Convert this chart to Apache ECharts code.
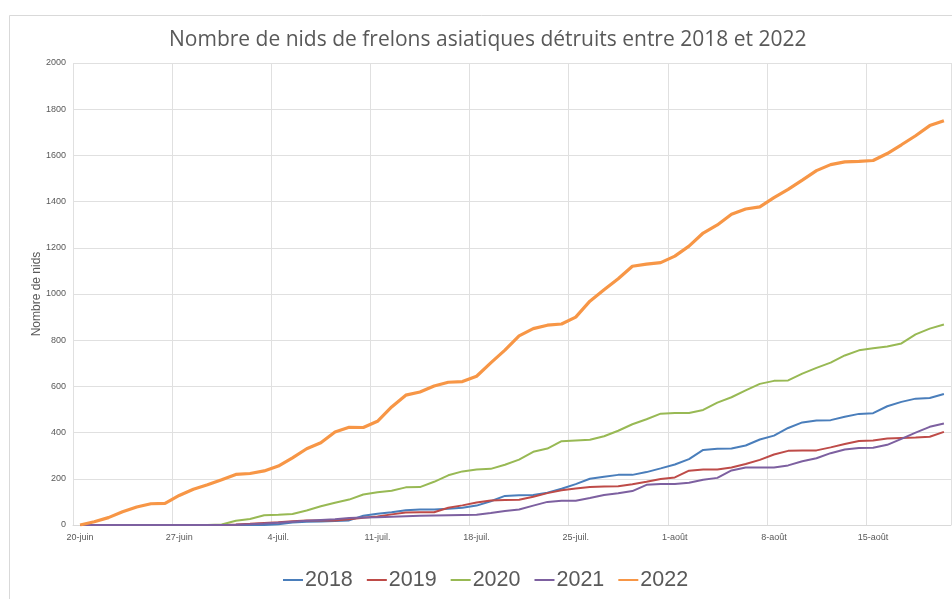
<!DOCTYPE html>
<html>
<head>
<meta charset="utf-8">
<script src="https://cdn.jsdelivr.net/npm/echarts@6/dist/echarts.min.js"></script>
<style>
html,body{margin:0;padding:0;background:#fff;}
#chart{width:952px;height:599px;}
</style>
</head>
<body>
<div id="chart"></div>
<script>
var categories = [
"20-juin","21-juin","22-juin","23-juin","24-juin","25-juin","26-juin","27-juin","28-juin","29-juin","30-juin",
"1-juil.","2-juil.","3-juil.","4-juil.","5-juil.","6-juil.","7-juil.","8-juil.","9-juil.","10-juil.",
"11-juil.","12-juil.","13-juil.","14-juil.","15-juil.","16-juil.","17-juil.","18-juil.","19-juil.","20-juil.",
"21-juil.","22-juil.","23-juil.","24-juil.","25-juil.","26-juil.","27-juil.","28-juil.","29-juil.","30-juil.","31-juil.",
"1-août","2-août","3-août","4-août","5-août","6-août","7-août","8-août","9-août","10-août",
"11-août","12-août","13-août","14-août","15-août","16-août","17-août","18-août","19-août","20-août"
];
var seriesNames = ["2018","2019","2020","2021","2022"];
var v2018 = [0,0,0,0,0,0,0,0,0,0,0,0,0,0,3,11,14,15,17,20,40,49,55,64,67,67,70,75,84,103,126,129,130,140,157,177,200,209,217,217,229,245,262,285,325,330,331,344,370,387,420,444,452,454,469,481,484,514,533,547,550,567];
var v2019 = [0,0,0,0,0,0,0,0,0,0,0,2,5,9,12,16,19,20,20,25,31,37,46,54,55,55,75,85,97,106,108,109,122,138,150,158,164,167,168,176,187,199,206,235,240,240,249,264,282,305,321,323,323,336,351,364,366,374,377,379,382,403];
var v2020 = [0,0,0,0,0,0,0,0,0,0,2,18,26,42,44,48,63,81,96,110,132,142,148,163,164,187,215,232,240,243,261,283,317,331,363,366,369,384,408,436,458,482,485,485,498,530,553,583,611,624,626,655,680,703,734,756,765,773,786,825,850,868];
var v2021 = [0,0,0,0,0,0,0,0,0,0,0,1,3,6,10,14,18,22,25,30,33,34,36,38,40,41,42,43,44,52,61,67,84,100,105,105,117,130,137,147,174,177,177,183,196,204,236,249,249,249,258,276,289,311,327,333,334,347,373,400,425,439];
var v2022 = [0,14,32,57,78,92,94,128,155,174,196,219,223,234,255,291,330,356,403,423,422,449,511,562,576,602,618,621,644,702,757,819,850,865,870,900,969,1018,1066,1120,1129,1136,1164,1207,1264,1299,1345,1368,1377,1417,1453,1493,1534,1560,1572,1574,1578,1608,1646,1685,1729,1750];
var colors = ["#4A7EBB","#BE4B48","#98B954","#7D60A0","#F79646"];
var widths = [2,2,2,2,3.2];
var allValues = [v2018,v2019,v2020,v2021,v2022];

var chart = echarts.init(document.getElementById('chart'));
var series = seriesNames.map(function(n,k){
  return {
    name:n, type:'line', data:allValues[k], showSymbol:false, symbol:'none',
    lineStyle:{color:colors[k], width:widths[k]}, itemStyle:{color:colors[k]},
    z: k===4 ? 5 : 3, animation:false
  };
});
chart.setOption({
  animation:false,
  backgroundColor:'#ffffff',
  graphic:[{type:'rect', shape:{x:9.5,y:15.5,width:1000,height:1000}, style:{fill:null, stroke:'#d9d9d9', lineWidth:1}, silent:true, z:-10}],
  title:{text:'Nombre de nids de frelons asiatiques détruits entre 2018 et 2022', left:164, top:25,
    textStyle:{color:'#595959', fontSize:21, fontWeight:'normal', fontFamily:'Open Sans'}},
  grid:{left:73, right:1, top:63, bottom:74, containLabel:false},
  legend:{data:seriesNames, bottom:3, left:278, icon:'rect', itemWidth:20, itemHeight:2, itemGap:14,
    textStyle:{color:'#595959', fontSize:21.5, fontFamily:'Liberation Sans', padding:[0,0,0,-3]}},
  xAxis:{type:'category', data:categories, boundaryGap:true,
    axisLine:{lineStyle:{color:'#d9d9d9'}}, axisTick:{show:false},
    axisLabel:{interval:6, color:'#595959', fontSize:9, margin:8, fontFamily:'Liberation Sans'},
    splitLine:{show:true, interval:6, lineStyle:{color:'#e0e0e0', width:1}}},
  yAxis:{type:'value', min:0, max:2000, interval:200, name:'Nombre de nids', nameLocation:'middle', nameGap:30, nameRotate:90,
    nameMoveOverlap:false,
    nameTextStyle:{color:'#595959', fontSize:12, fontFamily:'Liberation Sans'},
    axisLine:{show:false}, axisTick:{show:false},
    axisLabel:{color:'#595959', fontSize:9, margin:7, fontFamily:'Liberation Sans', formatter:function(v){return String(v);}},
    splitLine:{lineStyle:{color:'#e0e0e0', width:1}}},
  series:series
});
</script>
</body>
</html>
